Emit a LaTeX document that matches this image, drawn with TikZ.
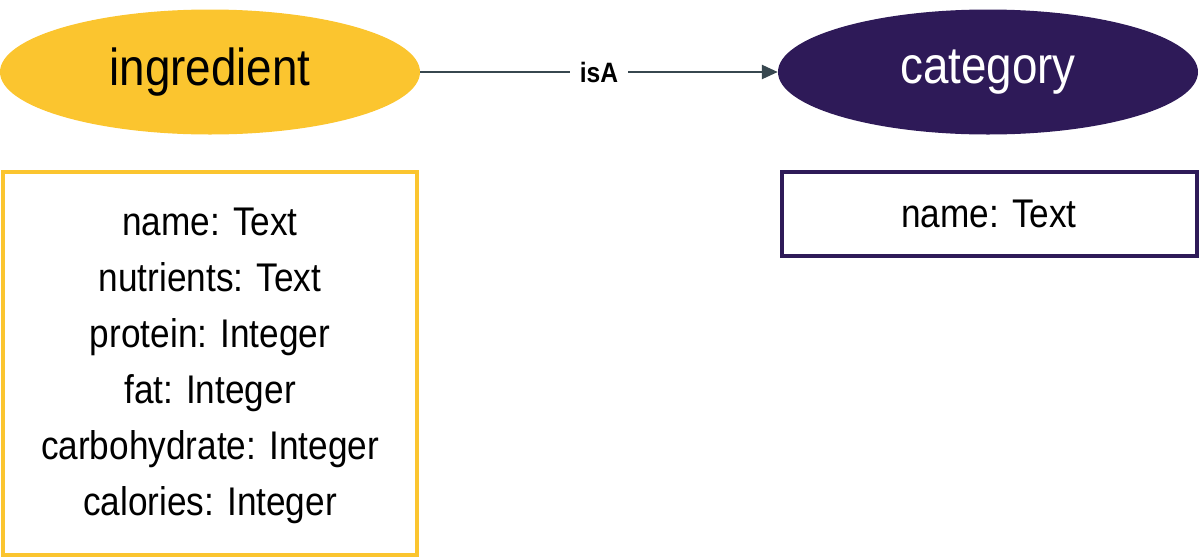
\documentclass[tikz,border=0pt]{standalone}
\usepackage{fontspec}
\setmainfont{Liberation Sans}[FakeStretch=0.88]
\usetikzlibrary{shapes.geometric,arrows.meta}
\definecolor{ylw}{HTML}{FBC52F}
\definecolor{prp}{HTML}{2E1A58}
\definecolor{edg}{HTML}{37474F}
\begin{document}
\begin{tikzpicture}[x=1pt,y=-1pt,
  ent/.style={ellipse,minimum width=420pt,minimum height=125pt,inner sep=0pt,font=\fontsize{52}{56}\selectfont},
  attr/.style={font=\fontsize{40}{56}\selectfont,align=center}]
\useasboundingbox (0,0) rectangle (1200,558);
\node[ent,fill=ylw,text=black] (ing) at (210,72) {ingredient};
\node[ent,fill=prp,text=white] (cat) at (988,72) {category};
\draw[edg,line width=2.5pt,-{Triangle[length=16pt,width=14pt]}] (ing) -- node[fill=white,text=black,font=\bfseries\fontsize{28}{30}\selectfont,inner xsep=10pt]{isA} (cat);
\draw[ylw,line width=4pt] (3,172) rectangle (417,555);
\node[attr] (ia) at (210,366) {name: Text\\nutrients: Text\\protein: Integer\\fat: Integer\\carbohydrate: Integer\\calories: Integer};
\draw[prp,line width=4pt] (782,172) rectangle (1197,256);
\node[attr] (ca) at (989,214) {name: Text};
\end{tikzpicture}
\end{document}
